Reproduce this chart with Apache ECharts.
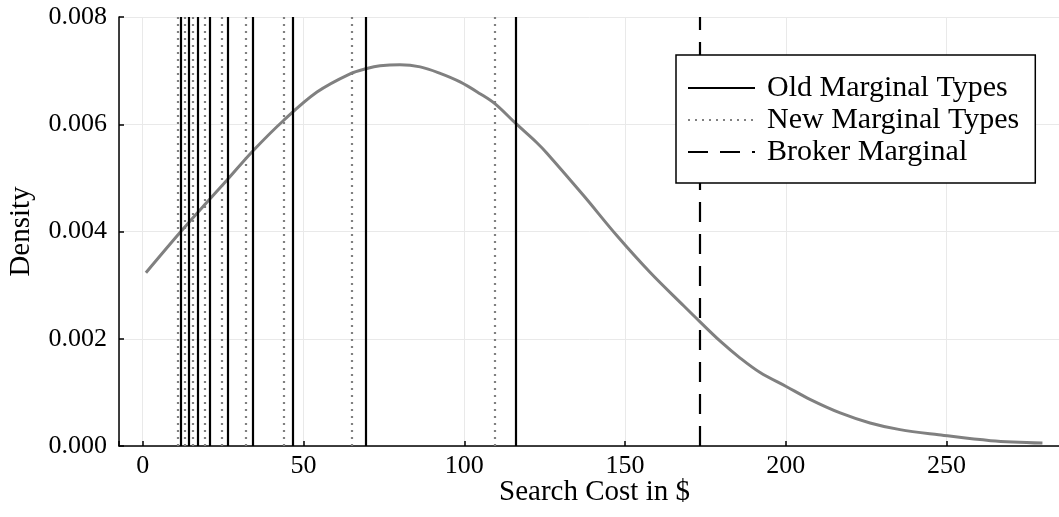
<!DOCTYPE html>
<html><head><meta charset="utf-8">
<script src="https://cdn.jsdelivr.net/npm/echarts@6/dist/echarts.min.js"></script>
<style>html,body{margin:0;padding:0;background:#fff}#c{width:1059px;height:517px}</style>
</head><body><div id="c"></div>
<script>
// Density curve (search cost in $, density)
const curveX = [1, 11.6, 19.9, 26.1, 34.4, 43.8, 54.2, 64.5, 69.7, 73.8, 80, 86.3, 92.5, 98.7, 104.9, 109.6, 116.1, 122.5, 125.7, 137.1, 147.5, 157.9, 168.3, 173.4, 179.6, 185.8, 192, 200.1, 207.5, 216.9, 226.2, 235.5, 247.5, 263.7, 279.8];
const curveY = [0.00323, 0.00398, 0.00454, 0.00495, 0.00551, 0.00607, 0.00660, 0.00694, 0.00704, 0.00709, 0.00711, 0.00707, 0.00695, 0.00679, 0.00657, 0.00638, 0.00601, 0.00566, 0.00546, 0.00467, 0.00392, 0.00323, 0.00261, 0.00231, 0.001955, 0.00164, 0.00137, 0.00111, 0.00087, 0.000617, 0.00043, 0.000305, 0.00021, 0.00010, 0.000056];
// Vertical marker lines
const oldMarginal = [11.8, 14.3, 17.0, 20.8, 26.3, 34.3, 46.7, 69.4, 116.1];
const newMarginal = [10.9, 13.2, 15.7, 19.4, 24.6, 32.1, 43.8, 65.1, 109.4];
const brokerMarginal = [173.3];
const xTicks = [0, 50, 100, 150, 200, 250];
const yTicks = [0, 0.002, 0.004, 0.006, 0.008];
const seriesNames = ['Old Marginal Types', 'New Marginal Types', 'Broker Marginal'];

const FONT = 'Liberation Serif';
const chart = echarts.init(document.getElementById('c'), null, {renderer: 'canvas'});

const styles = {
  old: {color: '#000000', width: 2.2, type: 'solid'},
  neu: {color: '#808080', width: 2.2, type: [2, 5]},
  broker: {color: '#000000', width: 2.2, type: [20, 12]}
};

function vlineSeries(name, xs, st, z) {
  return {
    name: name, type: 'line', data: [], symbol: 'none', z: z,
    lineStyle: st, itemStyle: {color: st.color},
    markLine: {
      silent: true, symbol: ['none', 'none'], animation: false,
      label: {show: false},
      lineStyle: {color: st.color, width: st.width, type: st.type},
      emphasis: {disabled: true},
      data: xs.map(x => ({xAxis: x}))
    }
  };
}

const option = {
  animation: false,
  backgroundColor: '#ffffff',
  grid: {left: 119, right: -11, top: 17, bottom: 71, containLabel: false, outerBoundsMode: 'none'},
  xAxis: {
    type: 'value', min: -7.37, max: 288.37, splitNumber: 6,
    name: 'Search Cost in $', nameLocation: 'middle', nameGap: 32, nameMoveOverlap: false,
    nameTextStyle: {fontFamily: FONT, fontSize: 29, color: '#000'},
    axisLine: {show: true, onZero: false, lineStyle: {color: '#000', width: 1.5}},
    axisTick: {show: true, inside: true, length: 5, lineStyle: {color: '#000', width: 1.5}},
    axisLabel: {
      fontFamily: FONT, fontSize: 26, color: '#000', margin: 7,
      showMinLabel: true, showMaxLabel: true,
      formatter: v => xTicks.indexOf(v) >= 0 ? String(v) : ''
    },
    splitLine: {show: true, lineStyle: {color: '#e9e9e9', width: 1}}
  },
  yAxis: {
    type: 'value', min: 0, max: 0.008, interval: 0.002,
    name: 'Density', nameLocation: 'middle', nameGap: 83, nameRotate: 90, nameMoveOverlap: false,
    nameTextStyle: {fontFamily: FONT, fontSize: 29, color: '#000'},
    axisLine: {show: true, onZero: false, lineStyle: {color: '#000', width: 1.5}},
    axisTick: {show: true, inside: true, length: 5, lineStyle: {color: '#000', width: 1.5}},
    axisLabel: {
      fontFamily: FONT, fontSize: 26, color: '#000', margin: 12,
      formatter: v => yTicks.some(t => Math.abs(t - v) < 1e-9) ? v.toFixed(3) : ''
    },
    splitLine: {show: true, lineStyle: {color: '#e9e9e9', width: 1}}
  },
  legend: {
    data: seriesNames, z: 20,
    orient: 'vertical', left: 676, top: 55,
    padding: [18, 16, 16, 11], itemGap: 2,
    itemWidth: 67, itemHeight: 2,
    backgroundColor: '#ffffff', borderColor: '#000', borderWidth: 1.5,
    textStyle: {fontFamily: FONT, fontSize: 30, color: '#000', padding: [0, 0, 0, 7]},
    selectedMode: false,
    itemStyle: {opacity: 0}
  },
  series: [
    {
      name: 'density', type: 'line', z: 3,
      data: curveX.map((x, i) => [x, curveY[i]]),
      smooth: 0.35, symbol: 'none',
      lineStyle: {color: '#808080', width: 3},
      itemStyle: {color: '#808080'}
    },
    vlineSeries(seriesNames[1], newMarginal, styles.neu, 4),
    vlineSeries(seriesNames[0], oldMarginal, styles.old, 5),
    vlineSeries(seriesNames[2], brokerMarginal, styles.broker, 5)
  ]
};
chart.setOption(option);
</script>
</body></html>
